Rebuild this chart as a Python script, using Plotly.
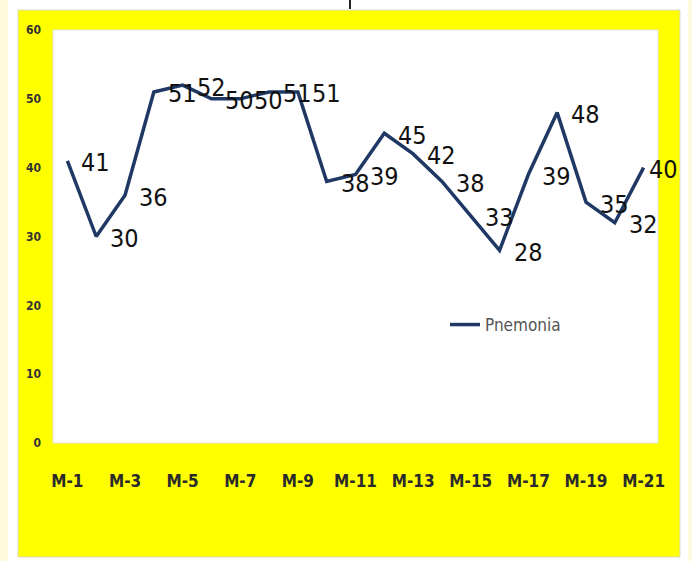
import plotly.graph_objects as go

categories = [f"M-{i}" for i in range(1, 22)]
pnemonia = [41, 30, 36, 51, 52, 50, 50, 51, 51, 38, 39, 45, 42, 38, 33, 28, 39, 48, 35, 32, 40]
y_ticks = [0, 10, 20, 30, 40, 50, 60]
x_ticks = categories[::2]
series_name = "Pnemonia"

W, H = 692, 561
L, R, T, B = 53, 34, 30, 118
PW, PH = W - L - R, H - T - B


def px_x(x):
    return (x - L) / PW


def px_y(y):
    return (H - B - y) / PH


NARROW = "Liberation Sans Narrow, DejaVu Sans Condensed, Arial Narrow, sans-serif"
LINE_COLOR = "#1F3864"

fig = go.Figure()
fig.add_trace(go.Scatter(
    x=categories, y=pnemonia, mode="lines", name=series_name,
    line=dict(color=LINE_COLOR, width=3.5), showlegend=True,
))

annotations = []
for i, (c, v) in enumerate(zip(categories, pnemonia)):
    last = i == len(categories) - 1
    annotations.append(dict(
        x=c, y=v, xref="x", yref="y", text=str(v), showarrow=False,
        xanchor="left", yanchor="middle", xshift=3 if last else 12, yshift=-2,
        font=dict(family=NARROW, size=25, color="#111111"),
    ))

shapes = [
    dict(type="rect", xref="paper", yref="paper", x0=px_x(0), x1=px_x(8), y0=px_y(H), y1=px_y(0),
         fillcolor="#FFF9DE", line=dict(width=0), layer="below"),
    dict(type="rect", xref="paper", yref="paper", x0=px_x(688), x1=px_x(W), y0=px_y(H), y1=px_y(0),
         fillcolor="#FFF9DE", line=dict(width=0), layer="below"),
    dict(type="rect", xref="paper", yref="paper", x0=px_x(18), x1=px_x(680), y0=px_y(557), y1=px_y(10),
         fillcolor="#FFFF00", line=dict(width=1, color="#D8D8C8"), layer="below"),
    dict(type="rect", xref="paper", yref="paper", x0=0, x1=1, y0=0, y1=1,
         fillcolor="#FFFFFF", line=dict(width=1, color="#E2E2E2"), layer="below"),
    dict(type="line", xref="paper", yref="paper", x0=px_x(350), x1=px_x(350), y0=px_y(0), y1=px_y(9),
         line=dict(width=2, color="#222222")),
]

fig.update_layout(
    width=W, height=H,
    margin=dict(l=L, r=R, t=T, b=B, pad=0),
    paper_bgcolor="#FFFFFF", plot_bgcolor="rgba(0,0,0,0)",
    showlegend=True,
    legend=dict(x=px_x(445), y=px_y(325), xanchor="left", yanchor="middle",
                bgcolor="rgba(0,0,0,0)", font=dict(family=NARROW, size=17, color="#555555")),
    annotations=annotations, shapes=shapes,
    xaxis=dict(type="category", range=[-0.5, len(categories) - 0.5], tickvals=x_ticks, ticktext=x_ticks,
               showgrid=False, zeroline=False, showline=False, ticks="",
               ticklabelstandoff=26,
               tickfont=dict(family=NARROW, size=17, color="#2a2a2a", weight="bold")),
    yaxis=dict(range=[0, 60], tickvals=y_ticks, showgrid=False, zeroline=False, showline=False, ticks="",
               ticklabelstandoff=11,
               tickfont=dict(family=NARROW, size=12, color="#333333", weight="bold")),
)

fig.write_html("out.html")
